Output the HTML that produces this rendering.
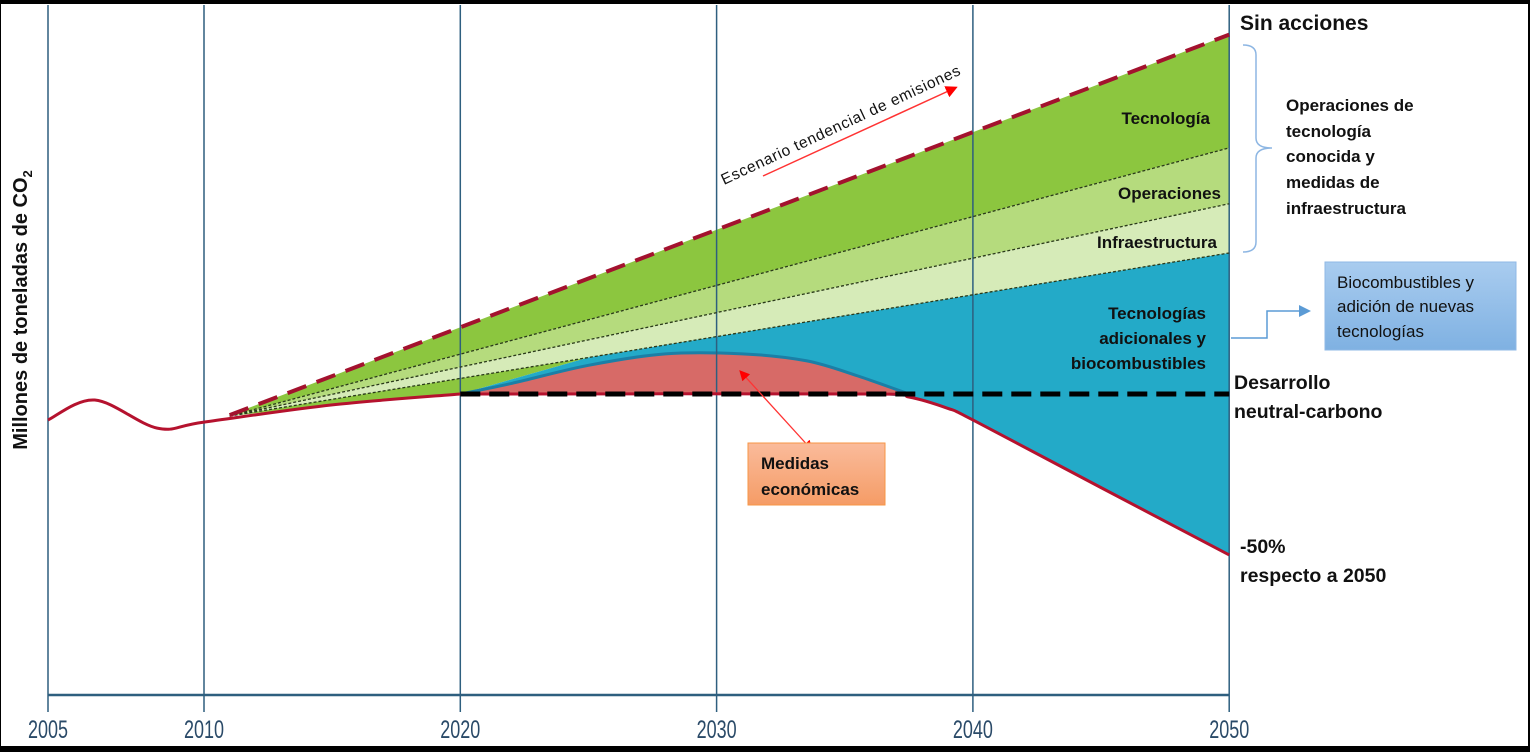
<!DOCTYPE html>
<html><head><meta charset="utf-8">
<style>
html,body{margin:0;padding:0;background:#000;}
#wrap{position:relative;width:1530px;height:752px;background:#000;overflow:hidden;}
svg{position:absolute;left:0;top:0;}
text{font-family:"Liberation Sans",sans-serif;}
.b{font-weight:bold;fill:#111;}
</style></head>
<body>
<div id="wrap">
<svg id="chart" width="1530" height="752"></svg>
</div>
<script>
// ---- data ----
const tickYears = [2005, 2010, 2020, 2030, 2040, 2050];
const histYears = [2005, 2006.5, 2008.5, 2010, 2015, 2020];
const histValues = [91.4, 98, 88.7, 90.7, 96.4, 100];
const reductionYears = [2020, 2036, 2037.5, 2039, 2040, 2045, 2050];
const reductionValues = [100, 100, 99, 95.3, 91.4, 69, 46.7];
const econYears = [2020, 2022, 2025, 2028, 2031, 2033.5, 2035.5, 2037.5];
const econValues = [100, 103.5, 109.5, 113.3, 113.3, 111, 106, 100];
const bandYears = [2011, 2050];
const sinAccionesValues = [93, 219];
const tecnologiaValues = [92.7, 181.5];
const operacionesValues = [92.7, 163];
const infraValues = [92.7, 146.7];
const neutralYears = [2020, 2050];
const neutralValues = [100, 100];
const blueStartYear = 2025;

const NS = "http://www.w3.org/2000/svg";
const svg = document.getElementById('chart');
function xs(yr){ return yr < 2010 ? 48 + (yr-2005)*31.2 : 204 + (yr-2010)*25.63; }
function ys(v){ return 696 - v*3.02; }
function el(tag, attrs, parent){ const e=document.createElementNS(NS,tag); for(const k in attrs) e.setAttribute(k,attrs[k]); (parent||svg).appendChild(e); return e; }
function pts(years, vals){ return years.map((y,i)=>[xs(y), ys(vals[i])]); }
function smooth(p){
  let d = `M${p[0][0]},${p[0][1]}`;
  for(let i=0;i<p.length-1;i++){
    const p0=p[i-1]||p[i], p1=p[i], p2=p[i+1], p3=p[i+2]||p2;
    const c1=[p1[0]+(p2[0]-p0[0])/6, p1[1]+(p2[1]-p0[1])/6];
    const c2=[p2[0]-(p3[0]-p1[0])/6, p2[1]-(p3[1]-p1[1])/6];
    d += ` C${c1[0]},${c1[1]} ${c2[0]},${c2[1]} ${p2[0]},${p2[1]}`;
  }
  return d;
}
function line(p){ return 'M'+p.map(q=>q.join(',')).join(' L'); }
function rev(p){ return p.slice().reverse(); }
function lerpLine(years, vals, yr){ const t=(yr-years[0])/(years[1]-years[0]); return vals[0]+t*(vals[1]-vals[0]); }

let e = el('rect',{x:1,y:4,width:1527,height:742,fill:'#fff'});



const sinP = pts(bandYears, sinAccionesValues);
const tecP = pts(bandYears, tecnologiaValues);
const opP = pts(bandYears, operacionesValues);
const infP = pts(bandYears, infraValues);
const redP = pts(reductionYears, reductionValues);
const ecoP = pts(econYears, econValues);
const histP = pts(histYears, histValues);
const infMid = [xs(blueStartYear), ys(lerpLine(bandYears, infraValues, blueStartYear))];

e = el('path',{d: line(sinP)+' L'+rev(tecP).map(q=>q.join(',')).join(' L')+' Z', fill:'#8cc63f'});


e = el('path',{d: line(tecP)+' L'+rev(opP).map(q=>q.join(',')).join(' L')+' Z', fill:'#b5db7d'});


e = el('path',{d: line(opP)+' L'+rev(infP).map(q=>q.join(',')).join(' L')+' Z', fill:'#d6ebb8'});


e = el('path',{d: 'M'+infP[0].join(',')+' L'+infMid.join(',')+' L'+ecoP[0].join(',')+' L'+histP[4].join(',')+' Z', fill:'#8cc63f'});


e = el('path',{d: 'M'+ecoP[0].join(',')+' L'+infMid.join(',')+' L'+infP[1].join(',')+' L'+rev(redP).map(q=>q.join(',')).join(' L')+' Z', fill:'#23aac8'});


e = el('path',{d: smooth(ecoP)+' Z', fill:'#d76a67'});


e = el('path',{d: smooth(ecoP), fill:'none', stroke:'#1b7fa6', 'stroke-width':3});



tickYears.forEach(y=>{
  const g = el('line',{x1:xs(y),x2:xs(y),y1:5,y2:712,stroke:'#2e5f7f','stroke-width':1.5});
  
  
  const t = el('text',{x:xs(y),y:738,'text-anchor':'middle','font-size':25,fill:'#2a4a68',transform:`translate(${xs(y)},0) scale(0.72,1) translate(${-xs(y)},0)`});
  t.textContent = y;
  
  
});
e = el('line',{x1:48,x2:1229,y1:695,y2:695,stroke:'#2e5f7f','stroke-width':2.5});



[tecP, opP, infP].forEach((p,i)=>{
  const l = el('path',{d: line(p), stroke:'#2a3a1a','stroke-width':1.3,'stroke-dasharray':'3,2',fill:'none'});
  
  
});
e = el('path',{d: smooth(histP), stroke:'#b5122e','stroke-width':3,fill:'none'});


e = el('path',{d: smooth(redP), stroke:'#b5122e','stroke-width':3,fill:'none'});


const nP = pts(neutralYears, neutralValues);
e = el('path',{d: line(nP), stroke:'#000','stroke-width':5,'stroke-dasharray':'20,9',fill:'none'});


e = el('path',{d: line(sinP), stroke:'#a3122e','stroke-width':4,'stroke-dasharray':'20,11',fill:'none'});


</script>

<svg width="1530" height="752" style="position:absolute;left:0;top:0">
<defs>
 <marker id="ar" markerWidth="8" markerHeight="8" refX="6" refY="4" orient="auto"><path d="M0,0 L8,4 L0,8 Z" fill="#f00"/></marker>
 <marker id="ar2" markerWidth="8" markerHeight="8" refX="6" refY="4" orient="auto-start-reverse"><path d="M0,0 L8,4 L0,8 Z" fill="#f00"/></marker>
 <marker id="ab" markerWidth="8" markerHeight="8" refX="6" refY="4" orient="auto"><path d="M0,0 L8,4 L0,8 Z" fill="#5b9bd5"/></marker>
 <linearGradient id="gb" x1="0" y1="0" x2="0" y2="1"><stop offset="0" stop-color="#a9ccef"/><stop offset="1" stop-color="#7fb1e2"/></linearGradient>
 <linearGradient id="go" x1="0" y1="0" x2="0" y2="1"><stop offset="0" stop-color="#fabb9b"/><stop offset="1" stop-color="#f59c66"/></linearGradient>
</defs>
<text class="b" font-size="20" transform="translate(27,310) rotate(-90)" text-anchor="middle">Millones de toneladas de CO<tspan font-size="13" dy="5">2</tspan></text>

<g transform="translate(724,185) rotate(-25)">
 <text x="0" y="0" font-size="15.5" fill="#111" textLength="262">Escenario tendencial de emisiones</text>
</g>
<line x1="763" y1="176" x2="955" y2="88" stroke="#f33" stroke-width="1.5" marker-end="url(#ar)"/>

<text class="b" x="1240" y="30" font-size="21">Sin acciones</text>
<path d="M1243,45 Q1256,45 1256,55 L1256,138 Q1256,148 1272,148 Q1256,148 1256,158 L1256,242 Q1256,252 1243,252" fill="none" stroke="#8db6e3" stroke-width="1.5"/>
<g font-size="17">
 <text class="b" x="1286" y="111">Operaciones de</text>
 <text class="b" x="1286" y="137">tecnología</text>
 <text class="b" x="1286" y="162">conocida y</text>
 <text class="b" x="1286" y="188">medidas de</text>
 <text class="b" x="1286" y="214">infraestructura</text>
</g>
<text class="b" x="1210" y="124" font-size="17" text-anchor="end">Tecnología</text>
<text class="b" x="1221" y="199" font-size="17" text-anchor="end">Operaciones</text>
<text class="b" x="1217" y="248" font-size="17" text-anchor="end">Infraestructura</text>
<g font-size="17" text-anchor="end">
 <text class="b" x="1206" y="319">Tecnologías</text>
 <text class="b" x="1206" y="344">adicionales y</text>
 <text class="b" x="1206" y="369">biocombustibles</text>
</g>
<path d="M1231,338 L1267,338 L1267,311 L1308,311" fill="none" stroke="#5b9bd5" stroke-width="1.5" marker-end="url(#ab)"/>
<rect x="1325" y="262" width="191" height="88" fill="url(#gb)" stroke="#8fb8e6"/>
<g font-size="17" fill="#111">
 <text x="1337" y="288">Biocombustibles y</text>
 <text x="1337" y="312">adición de nuevas</text>
 <text x="1337" y="337">tecnologías</text>
</g>
<text class="b" x="1234" y="389" font-size="19.5">Desarrollo</text>
<text class="b" x="1234" y="418" font-size="19.5">neutral-carbono</text>
<text class="b" x="1240" y="553" font-size="19.5">-50%</text>
<text class="b" x="1240" y="582" font-size="19.5">respecto a 2050</text>

<line x1="741" y1="372" x2="811" y2="449" stroke="#f33" stroke-width="1.3" marker-start="url(#ar2)" marker-end="url(#ar2)"/>
<rect x="748" y="443" width="137" height="62" fill="url(#go)" stroke="#f79646"/>
<text class="b" x="761" y="469" font-size="17">Medidas</text>
<text class="b" x="761" y="495" font-size="17">económicas</text>
</svg>
</body></html>
